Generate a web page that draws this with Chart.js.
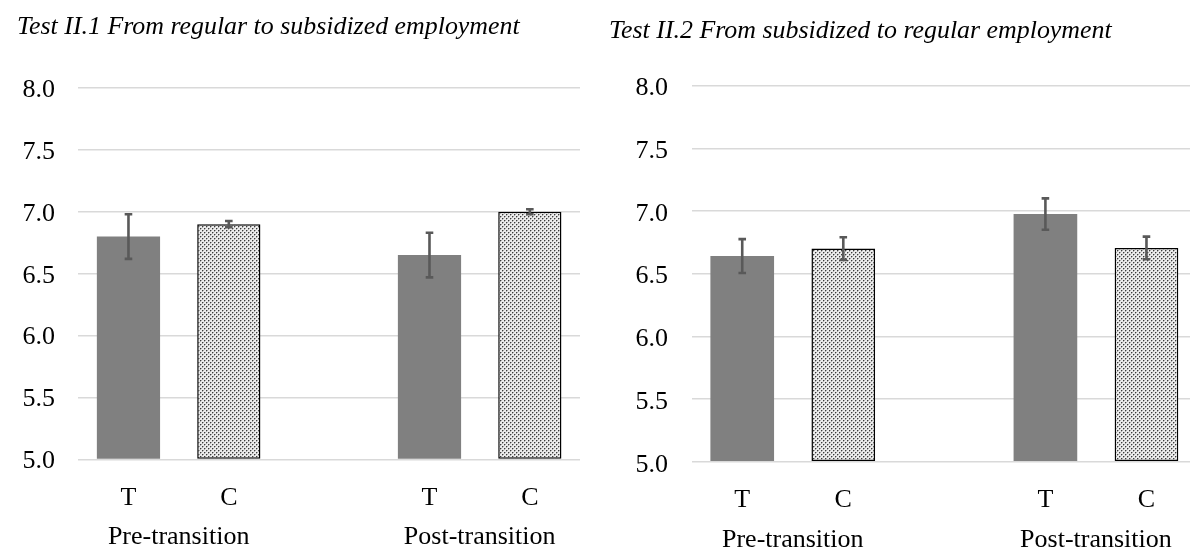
<!DOCTYPE html>
<html>
<head>
<meta charset="utf-8">
<script src="https://cdn.jsdelivr.net/npm/chart.js@4.4.1/dist/chart.umd.min.js"></script>
<style>
  html, body { margin: 0; padding: 0; background: #ffffff; overflow: hidden; width: 1190px; height: 549px; }
  .panel { position: absolute; top: 0; height: 549px; }
  #panel1 { left: 0; width: 595px; }
  #panel2 { left: 595px; width: 620px; }
</style>
</head>
<body>
<div class="panel" id="panel1"><canvas id="chart1"></canvas></div>
<div class="panel" id="panel2"><canvas id="chart2"></canvas></div>
<script>
// Group arms and periods shown on the two-level category axis
const arms = ['T', 'C'];
const periods = ['Pre-transition', 'Post-transition'];
const yTicks = [5.0, 5.5, 6.0, 6.5, 7.0, 7.5, 8.0];

// Test II.1
const test1Title = 'Test II.1 From regular to subsidized employment';
const test1Treated = [6.80, 6.65];
const test1TreatedErr = [0.18, 0.18];
const test1Control = [6.90, 7.00];
const test1ControlErr = [0.025, 0.02];

// Test II.2
const test2Title = 'Test II.2 From subsidized to regular employment';
const test2Treated = [6.64, 6.975];
const test2TreatedErr = [0.135, 0.125];
const test2Control = [6.70, 6.705];
const test2ControlErr = [0.09, 0.09];

const FONT = "'Liberation Serif', 'Times New Roman', serif";

// Fine dotted fill used for the control bars
function dotPattern() {
  const c = document.createElement('canvas');
  c.width = 4; c.height = 4;
  const g = c.getContext('2d');
  g.fillStyle = '#ebebeb';
  g.fillRect(0, 0, 4, 4);
  g.fillStyle = '#3c3c3c';
  g.fillRect(0, 0, 1, 1);
  g.fillRect(2, 2, 1, 1);
  g.fillStyle = '#a8a8a8';
  g.fillRect(1, 0, 1, 1);
  g.fillRect(3, 2, 1, 1);
  g.fillRect(0, 1, 1, 1);
  g.fillRect(2, 3, 1, 1);
  return g.createPattern(c, 'repeat');
}

// Lay the two arms of each period side by side, with an empty slot between periods
function buildSlots(treated, treatedErr, control, controlErr) {
  const labels = [], values = [], errors = [], arm = [], periodPos = [];
  periods.forEach((p, pi) => {
    if (pi > 0) { labels.push(''); values.push(null); errors.push(null); arm.push(null); }
    const start = labels.length;
    arms.forEach(a => {
      labels.push(a);
      if (a === 'T') { values.push(treated[pi]); errors.push(treatedErr[pi]); }
      else { values.push(control[pi]); errors.push(controlErr[pi]); }
      arm.push(a);
    });
    periodPos.push((start + labels.length - 1) / 2);
  });
  return { labels, values, errors, arm, periodPos };
}

const errorBarPlugin = {
  id: 'errorBars',
  afterDatasetsDraw(chart) {
    const yScale = chart.scales.y;
    const ctx = chart.ctx;
    chart.data.datasets.forEach((ds, di) => {
      if (!ds.errors) return;
      const meta = chart.getDatasetMeta(di);
      ctx.save();
      ctx.strokeStyle = '#595959';
      ctx.lineWidth = 2.6;
      meta.data.forEach((bar, i) => {
        const v = ds.data[i], e = ds.errors[i];
        if (v == null || e == null) return;
        const x = bar.x;
        const top = yScale.getPixelForValue(v + e);
        const bot = yScale.getPixelForValue(v - e);
        ctx.beginPath();
        ctx.moveTo(x, top); ctx.lineTo(x, bot);
        ctx.moveTo(x - 3.8, top); ctx.lineTo(x + 3.8, top);
        ctx.moveTo(x - 3.8, bot); ctx.lineTo(x + 3.8, bot);
        ctx.stroke();
      });
      ctx.restore();
    });
  }
};

function makeChart(canvasId, title, slots, lay) {
  const pattern = dotPattern();
  const yMin = yTicks[0], yMax = yTicks[yTicks.length - 1];
  const xMin = -0.5, xMax = slots.labels.length - 0.5;
  return new Chart(document.getElementById(canvasId), {
    type: 'bar',
    data: {
      labels: slots.labels,
      datasets: [{
        xAxisID: 'x',
        yAxisID: 'y',
        data: slots.values,
        errors: slots.errors,
        base: yMin,
        backgroundColor: slots.arm.map(a => a === 'C' ? pattern : '#808080'),
        borderColor: '#000000',
        borderWidth: slots.arm.map(a => a === 'C' ? 1.5 : 0),
        borderSkipped: false,
        categoryPercentage: 1.0,
        barPercentage: 0.63
      }]
    },
    options: {
      responsive: true,
      maintainAspectRatio: false,
      animation: false,
      events: [],
      layout: { padding: { left: lay.padLeft, right: lay.padRight, top: 0, bottom: 0 } },
      plugins: {
        legend: { display: false },
        tooltip: { enabled: false },
        title: {
          display: true,
          text: title,
          align: 'start',
          color: '#000000',
          font: { family: FONT, size: 25.9, style: 'italic', weight: 'normal', lineHeight: 1.2 },
          padding: { top: lay.titleTop, bottom: lay.titleBottom }
        }
      },
      scales: {
        y: {
          min: yMin, max: yMax,
          afterBuildTicks: s => { s.ticks = yTicks.map(v => ({ value: v })); },
          afterFit: s => { s.width = lay.yWidth; },
          grid: { color: '#d9d9d9', lineWidth: 1.5, drawTicks: false },
          border: { display: false },
          ticks: {
            padding: lay.yPad,
            labelOffset: lay.yLabelOffset,
            color: '#000000',
            font: { family: FONT, size: 26 },
            callback: v => Number(v).toFixed(1)
          }
        },
        x: {
          type: 'category',
          position: 'bottom',
          offset: true,
          weight: 0,
          afterFit: s => { s.height = lay.xHeight; },
          grid: { display: false, drawTicks: false },
          border: { display: false },
          ticks: {
            padding: lay.xPad,
            color: '#000000',
            autoSkip: false, maxRotation: 0,
            font: { family: FONT, size: 26, lineHeight: 1.2 }
          }
        },
        // Period names, centred under each pair of bars
        x2: {
          type: 'linear',
          position: 'bottom',
          weight: 1,
          offset: false,
          bounds: 'data',
          min: xMin,
          max: xMax,
          afterBuildTicks: s => { s.ticks = slots.periodPos.map(v => ({ value: v })); },
          afterFit: s => { s.height = lay.x2Height; },
          grid: { display: false, drawTicks: false, offset: false },
          border: { display: false },
          ticks: {
            padding: lay.x2Pad,
            color: '#000000',
            autoSkip: false, maxRotation: 0,
            font: { family: FONT, size: 26, lineHeight: 1.2 },
            callback: (v, i) => periods[i]
          }
        }
      }
    },
    plugins: [errorBarPlugin]
  });
}

makeChart('chart1', test1Title,
  buildSlots(test1Treated, test1TreatedErr, test1Control, test1ControlErr),
  { padLeft: 17, padRight: 15, yWidth: 61.3, yPad: 23.3, yLabelOffset: 2,
    titleTop: 11.5, titleBottom: 45.3,
    xHeight: 53, xPad: 23, x2Height: 36.5, x2Pad: 8.9 });

makeChart('chart2', test2Title,
  buildSlots(test2Treated, test2TreatedErr, test2Control, test2ControlErr),
  { padLeft: 14, padRight: 18, yWidth: 82.7, yPad: 23.7, yLabelOffset: 3,
    titleTop: 15.9, titleBottom: 38.6,
    xHeight: 53, xPad: 22.4, x2Height: 34.3, x2Pad: 9.4 });
</script>
</body>
</html>
